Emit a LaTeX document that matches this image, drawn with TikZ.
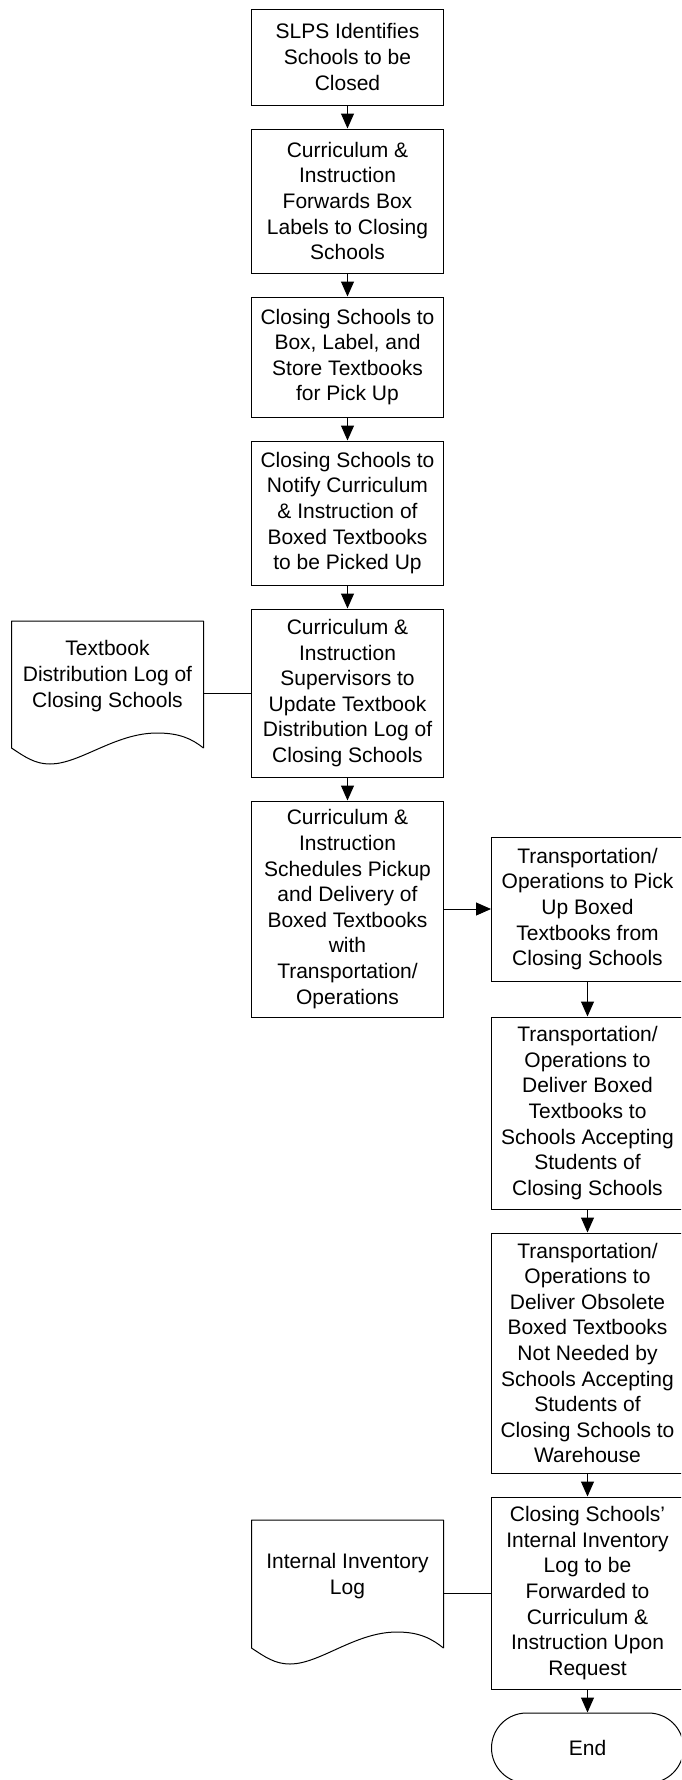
\documentclass[tikz,border=0pt]{standalone}
\usepackage{fontspec}
\setmainfont{Liberation Sans}
\usetikzlibrary{arrows.meta}
\tikzset{
  procbox/.style={draw=black, line width=1pt, minimum width=192pt, inner sep=0pt, align=center,
    font=\fontsize{21}{25.6}\selectfont},
  endbox/.style={procbox, rounded corners=35pt, minimum height=70pt},
  doctext/.style={inner sep=0pt, align=center, font=\fontsize{21}{25.6}\selectfont},
  flow/.style={draw=black, line width=1pt, -{Triangle[length=15pt,width=13pt]}},
  link/.style={draw=black, line width=1pt},
  docshape/.style={draw=black, line width=1pt, line join=round}
}
\begin{document}
\begin{tikzpicture}[x=1pt,y=-1pt]
\useasboundingbox (0,0) rectangle (681,1780);
\clip (0,0) rectangle (681,1780);
\fill[white] (0,0) rectangle (681,1780);

% left column
\node[procbox, minimum height=96pt]  (b1) at (347.5,57)  {SLPS Identifies\\Schools to be\\Closed};
\node[procbox, minimum height=144pt] (b2) at (347.5,201) {Curriculum \&\\Instruction\\Forwards Box\\Labels to Closing\\Schools};
\node[procbox, minimum height=120pt] (b3) at (347.5,357) {Closing Schools to\\Box, Label, and\\Store Textbooks\\for Pick Up};
\node[procbox, minimum height=144pt] (b4) at (347.5,513) {Closing Schools to\\Notify Curriculum\\\& Instruction of\\Boxed Textbooks\\to be Picked Up};
\node[procbox, minimum height=168pt] (b5) at (347.5,693) {Curriculum \&\\Instruction\\Supervisors to\\Update Textbook\\Distribution Log of\\Closing Schools};
\node[procbox, minimum height=216pt] (b6) at (347.5,909) {Curriculum \&\\Instruction\\Schedules Pickup\\and Delivery of\\Boxed Textbooks\\with\\Transportation/\\Operations};

% right column
\node[procbox, minimum height=144pt] (ba) at (587.5,909)  {Transportation/\\Operations to Pick\\Up Boxed\\Textbooks from\\Closing Schools};
\node[procbox, minimum height=192pt] (bb) at (587.5,1113) {Transportation/\\Operations to\\Deliver Boxed\\Textbooks to\\Schools Accepting\\Students of\\Closing Schools};
\node[procbox, minimum height=240pt] (bc) at (587.5,1353) {Transportation/\\Operations to\\Deliver Obsolete\\Boxed Textbooks\\Not Needed by\\Schools Accepting\\Students of\\Closing Schools to\\Warehouse};
\node[procbox, minimum height=192pt] (bd) at (587.5,1593) {Closing Schools’\\Internal Inventory\\Log to be\\Forwarded to\\Curriculum \&\\Instruction Upon\\Request};
\node[endbox] (end) at (587.5,1748) {End};

% document 1
\draw[docshape] (203.5,748) -- (203.5,621) -- (11.5,621) -- (11.5,748)
  .. controls (25,757) and (35,764) .. (50,764)
  .. controls (80,764) and (115,733) .. (157,733)
  .. controls (180,733) and (192,739) .. (203.5,748);
\node[doctext] (d1) at (107.5,676) {Textbook\\Distribution Log of\\Closing Schools};
\coordinate (d1e) at (203.5,693);

% document 2
\draw[docshape] (443.5,1648) -- (443.5,1520) -- (251.5,1520) -- (251.5,1648)
  .. controls (265,1657) and (275,1664) .. (290,1664)
  .. controls (320,1664) and (355,1632) .. (397,1632)
  .. controls (420,1632) and (432,1639) .. (443.5,1648);
\node[doctext] (d2) at (347.5,1576) {Internal Inventory\\Log};
\coordinate (d2e) at (443.5,1593);

% connectors
\draw[flow] (b1) -- (b2);
\draw[flow] (b2) -- (b3);
\draw[flow] (b3) -- (b4);
\draw[flow] (b4) -- (b5);
\draw[flow] (b5) -- (b6);
\draw[flow] (b6.east) -- (ba.west);
\draw[flow] (ba) -- (bb);
\draw[flow] (bb) -- (bc);
\draw[flow] (bc) -- (bd);
\draw[flow] (bd) -- (end);
\draw[link] (d1e) -- (b5.west);
\draw[link] (d2e) -- (bd.west);
\end{tikzpicture}
\end{document}
